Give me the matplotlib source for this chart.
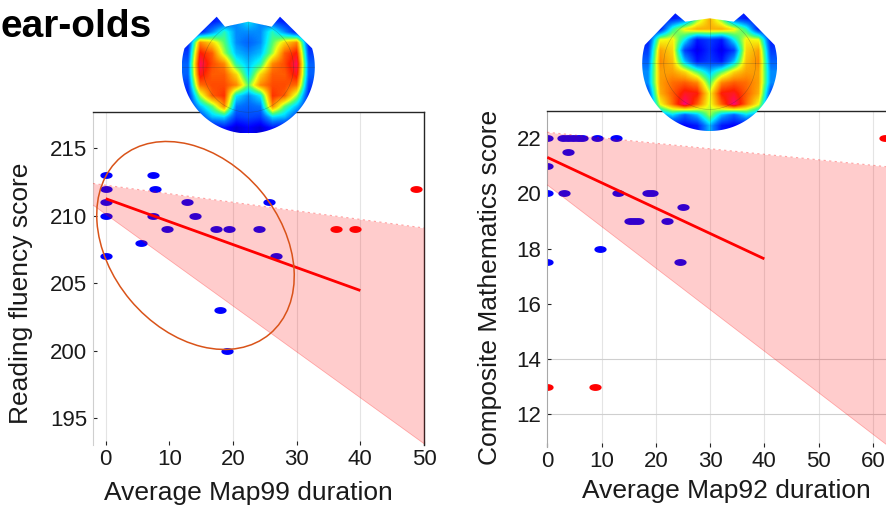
import numpy as np
import matplotlib
matplotlib.use('Agg')
import matplotlib.pyplot as plt
from matplotlib.path import Path
from matplotlib.patches import Ellipse, PathPatch
from matplotlib.colors import LinearSegmentedColormap
import matplotlib.transforms as mtransforms

plt.rcParams['font.family'] = ['Liberation Sans', 'DejaVu Sans']

# ---------------- data ----------------
title_text = "ear-olds"

# Left panel: Reading fluency vs Map99 duration
read_blue_x = [0, 0, 0, 0, 0, 7.5, 7.7, 7.5, 5.6, 9.7, 12.7, 14.0, 17.4, 19.3, 24.0, 25.7, 26.8, 18.0, 19.0]
read_blue_y = [213, 212, 211, 210, 207, 213, 212, 210, 208, 209, 211, 210, 209, 209, 209, 211, 207, 203, 200]
read_red_x = [36.2, 39.2, 48.8]
read_red_y = [209, 209, 212]
read_fit_x = [0, 40]
read_fit_y = [211.27, 204.46]
read_ci_x = [-2, 50]
read_ci_upper = [212.4, 209.1]
read_ci_lower = [210.8, 193.1]
read_xticks = [0, 10, 20, 30, 40, 50]
read_yticks = [195, 200, 205, 210, 215]
read_vgrid = [0, 20, 30, 40]

# Right panel: Composite Mathematics vs Map92 duration
math_blue_x = [0, 0, 0, 0, 3.1, 3.9, 2.9, 3.8, 4.7, 5.6, 6.4, 9.2, 12.7, 9.8, 13.0,
               15.2, 16.0, 16.8, 18.5, 19.3, 22.1, 25.1, 24.4]
math_blue_y = [22, 21, 20, 17.5, 20, 21.5, 22, 22, 22, 22, 22, 22, 22, 18, 20,
               19, 19, 19, 20, 20, 19, 19.5, 17.5]
math_red_x = [0, 8.8, 62.3]
math_red_y = [13, 13, 22]
math_fit_x = [0, 40]
math_fit_y = [21.31, 17.63]
math_ci_x = [0, 62.6]
math_ci_upper = [22.22, 20.97]
math_ci_lower = [20.31, 10.88]
math_xticks = [0, 10, 20, 30, 40, 50, 60]
math_yticks = [12, 14, 16, 18, 20, 22]
math_vgrid = [10, 20, 30, 40, 50, 60]
math_hgrid = [12, 14]

# Topographic maps (coarse 11x11 value grids, top row first)
topo_left = [
    [0.15, 0.15, 0.15, 0.20, 0.30, 0.40, 0.30, 0.20, 0.15, 0.15, 0.15],
    [0.15, 0.15, 0.30, 0.45, 0.30, 0.30, 0.30, 0.45, 0.30, 0.15, 0.15],
    [0.15, 0.75, 0.65, 0.50, 0.30, 0.25, 0.30, 0.50, 0.65, 0.75, 0.15],
    [0.20, 0.88, 0.80, 0.55, 0.35, 0.30, 0.35, 0.55, 0.80, 0.88, 0.20],
    [0.25, 0.95, 0.82, 0.75, 0.45, 0.35, 0.45, 0.75, 0.82, 0.95, 0.25],
    [0.25, 0.90, 0.80, 0.80, 0.65, 0.38, 0.65, 0.80, 0.80, 0.90, 0.25],
    [0.20, 0.78, 0.82, 0.82, 0.75, 0.50, 0.75, 0.82, 0.82, 0.78, 0.20],
    [0.15, 0.55, 0.80, 0.85, 0.40, 0.30, 0.40, 0.85, 0.80, 0.55, 0.15],
    [0.15, 0.35, 0.50, 0.75, 0.28, 0.25, 0.28, 0.75, 0.50, 0.35, 0.15],
    [0.15, 0.20, 0.35, 0.38, 0.20, 0.22, 0.20, 0.38, 0.35, 0.20, 0.15],
    [0.10, 0.10, 0.12, 0.15, 0.08, 0.12, 0.08, 0.15, 0.12, 0.10, 0.10],
]
topo_right = [
    [0.15, 0.15, 0.15, 0.20, 0.50, 0.70, 0.50, 0.20, 0.15, 0.15, 0.15],
    [0.15, 0.15, 0.45, 0.62, 0.70, 0.70, 0.70, 0.62, 0.45, 0.15, 0.15],
    [0.15, 0.60, 0.62, 0.40, 0.15, 0.20, 0.15, 0.40, 0.62, 0.60, 0.15],
    [0.20, 0.72, 0.65, 0.20, 0.10, 0.18, 0.10, 0.20, 0.65, 0.72, 0.20],
    [0.25, 0.75, 0.68, 0.35, 0.15, 0.20, 0.15, 0.35, 0.68, 0.75, 0.25],
    [0.30, 0.72, 0.72, 0.65, 0.50, 0.35, 0.50, 0.65, 0.72, 0.72, 0.30],
    [0.30, 0.72, 0.78, 0.80, 0.75, 0.48, 0.75, 0.80, 0.78, 0.72, 0.30],
    [0.20, 0.70, 0.80, 0.90, 0.88, 0.60, 0.88, 0.90, 0.80, 0.70, 0.20],
    [0.15, 0.60, 0.78, 0.98, 0.80, 0.58, 0.80, 0.98, 0.78, 0.60, 0.15],
    [0.15, 0.30, 0.38, 0.25, 0.35, 0.55, 0.35, 0.25, 0.38, 0.30, 0.15],
    [0.10, 0.12, 0.12, 0.12, 0.15, 0.35, 0.15, 0.12, 0.12, 0.12, 0.10],
]

# ---------------- figure ----------------
W, H = 887, 511
fig = plt.figure(figsize=(W / 100, H / 100), dpi=100)
fig.patch.set_facecolor('white')


def px_rect(x0, y0, x1, y1):
    return [x0 / W, 1 - y1 / H, (x1 - x0) / W, (y1 - y0) / H]


t = np.linspace(0, 2 * np.pi, 60)
ell_marker = Path(np.column_stack([np.cos(t), 0.5 * np.sin(t)]), closed=True)

BLUE = '#0000FF'
RED = '#FF0000'


def style_axes(ax, left_spine_color):
    for s in ['top', 'right']:
        ax.spines[s].set_color('#262626')
        ax.spines[s].set_linewidth(1.0)
    ax.spines['left'].set_color(left_spine_color)
    ax.spines['left'].set_linewidth(0.8)
    ax.spines['bottom'].set_visible(False)
    ax.tick_params(direction='in', length=3, width=0.8, color='#262626',
                   labelsize=16, labelcolor='#1a1a1a')
    ax.tick_params(axis='x', pad=3)
    ax.tick_params(axis='y', pad=4)


def panel(ax, bx, by, rx, ry, fx, fy, cx, cu, cl, xlim, ylim, xt, yt, vgrid, hgrid,
          xlabel, ylabel, xl_coords, yl_coords, left_spine_color):
    ax.set_xlim(*xlim)
    ax.set_ylim(*ylim)
    for g in vgrid:
        ax.axvline(g, color='#E4E4E4', lw=0.8, zorder=0)
    for g in hgrid:
        ax.axhline(g, color='#CFCFCF', lw=0.8, zorder=0)
    ax.plot(bx, by, linestyle='none', marker=ell_marker, markersize=7.8,
            color=BLUE, zorder=2)
    ax.plot(rx, ry, linestyle='none', marker=ell_marker, markersize=7.8,
            color=RED, zorder=2)
    ax.fill_between(cx, cl, cu, color=RED, alpha=0.2, lw=0, zorder=3)
    ax.plot(cx, cu, color=RED, alpha=0.35, lw=0.8, ls=(0, (2, 3)), zorder=3)
    ax.plot(cx, cl, color=RED, alpha=0.25, lw=0.6, zorder=3)
    ax.plot(fx, fy, color=RED, lw=2.0, zorder=4, solid_capstyle='butt')
    ax.set_xticks(xt)
    ax.set_yticks(yt)
    style_axes(ax, left_spine_color)
    ax.set_xlabel(xlabel, fontsize=19, color='#1a1a1a')
    ax.set_ylabel(ylabel, fontsize=19, color='#1a1a1a')
    ax.xaxis.set_label_coords(*xl_coords)
    ax.yaxis.set_label_coords(*yl_coords)


axL = fig.add_axes(px_rect(93, 112, 424, 445))
panel(axL, read_blue_x, read_blue_y, read_red_x, read_red_y, read_fit_x, read_fit_y,
      read_ci_x, read_ci_upper, read_ci_lower, (-2, 50), (193.0, 217.7),
      read_xticks, read_yticks, read_vgrid, [],
      'Average Map99 duration', 'Reading fluency score',
      (0.468, -0.108), (-0.181, 0.457), '#CFCFCF')

# orange ellipse highlighting the cluster (size in inches, centre in data coords)
ell_tr = fig.dpi_scale_trans + mtransforms.ScaledTranslation(14.1, 207.8, axL.transData)
axL.add_patch(Ellipse((0, 0), 2.31, 1.70, angle=-50, transform=ell_tr,
                      fill=False, edgecolor='#D95319', lw=1.1, zorder=5,
                      clip_on=False))

axR = fig.add_axes(px_rect(546.7, 111, 887, 446.7))
panel(axR, math_blue_x, math_blue_y, math_red_x, math_red_y, math_fit_x, math_fit_y,
      math_ci_x, math_ci_upper, math_ci_lower, (-0.1, 62.6), (10.82, 22.99),
      math_xticks, math_yticks, math_vgrid, math_hgrid,
      'Average Map92 duration', 'Composite Mathematics score',
      (0.529, -0.096), (-0.131, 0.474), '#A8A8A8')
axR.spines['right'].set_visible(False)

# ---------------- topographic maps ----------------
cmap = LinearSegmentedColormap.from_list('topo', [
    (0.00, '#00008F'), (0.12, '#0000FF'), (0.28, '#0078FF'), (0.40, '#00F0FF'),
    (0.50, '#50FF70'), (0.60, '#F5FF10'), (0.74, '#FF9000'), (0.87, '#FF2000'),
    (1.00, '#FF0090')])


def topomap(values, cx, cy, r, side_y, ear_l, notch_l, top_c, notch_r, ear_r):
    top_y = min(ear_l[1], ear_r[1])
    bx0, bx1 = cx - r - 3, cx + r + 3
    by0, by1 = top_y - 3, cy + r + 3
    ax = fig.add_axes(px_rect(bx0, by0, bx1, by1), zorder=10)
    ax.set_xlim(bx0, bx1)
    ax.set_ylim(by1, by0)
    ax.axis('off')
    ax.patch.set_alpha(0)
    th0 = np.arcsin((side_y - cy) / r)
    ang = np.linspace(th0, np.pi - th0, 120)
    arc = np.column_stack([cx + r * np.cos(ang), cy + r * np.sin(ang)])
    top = np.array([ear_l, notch_l, top_c, notch_r, ear_r])
    verts = np.vstack([arc, top, arc[:1]])
    clip = PathPatch(Path(verts, closed=True), transform=ax.transData,
                     facecolor='none', edgecolor='none')
    ax.add_patch(clip)
    im = ax.imshow(np.array(values), cmap=cmap, vmin=0, vmax=1,
                   interpolation='bilinear', aspect='auto',
                   extent=(cx - r, cx + r, cy + r, top_y))
    im.set_clip_path(clip)
    # faint head-model guide lines
    circ = np.linspace(0, 2 * np.pi, 100)
    l1, = ax.plot(cx + 0.68 * r * np.cos(circ), cy + 0.68 * r * np.sin(circ),
                  color='#333333', lw=0.4, alpha=0.35)
    l2, = ax.plot([cx - r, cx + r], [cy, cy], color='#333333', lw=0.4, alpha=0.35)
    l3, = ax.plot([cx, cx], [top_c[1], cy + r], color='#333333', lw=0.4, alpha=0.35)
    for ln in (l1, l2, l3):
        ln.set_clip_path(clip)


topomap(topo_left, 248.3, 67.0, 66.5, 48.3, (216.7, 16.7), (225.0, 26.7),
        (248.3, 21.7), (271.7, 26.7), (280.0, 16.7))
topomap(topo_right, 709.7, 63.5, 67.5, 45.0, (675.3, 13.3), (685.3, 21.7),
        (709.7, 18.3), (733.7, 21.7), (743.7, 13.3))

# ---------------- title fragment ----------------
fig.text(0.0, 1 - 37 / H, title_text, fontsize=28, fontweight='bold',
         ha='left', va='baseline', color='black')

fig.savefig('out.png', dpi=100, facecolor='white')
